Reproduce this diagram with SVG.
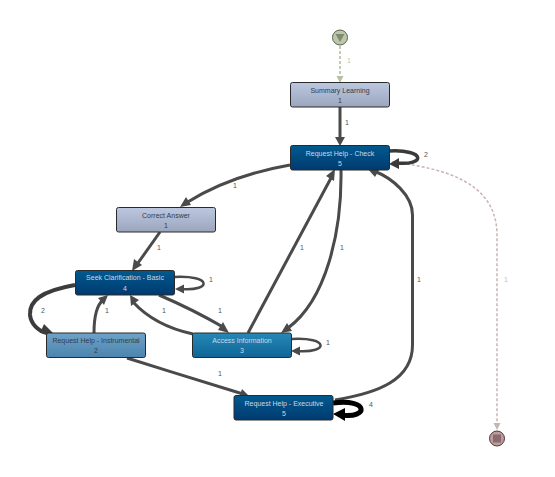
<svg xmlns="http://www.w3.org/2000/svg" width="555" height="477" viewBox="0 0 555 477">
<style>
text{font-family:"Liberation Sans",Arial,sans-serif;font-size:7px;text-anchor:middle}
.n{stroke:#2a2a2a;stroke-width:1}
.l{fill:#555}
.tw{fill:#c9d9e6}
.td{fill:#333a4a}
.e{fill:none;stroke:#4a4a4a;stroke-width:3}
.h{fill:#4a4a4a}
.loop{stroke-width:2.500}
</style>
<defs>
<linearGradient id="gs" x1="0" y1="0" x2="0" y2="1"><stop offset="0" stop-color="#bcc8e0"/><stop offset="1" stop-color="#9ba6bd"/></linearGradient>
<linearGradient id="gd" x1="0" y1="0" x2="0" y2="1"><stop offset="0" stop-color="#005a8f"/><stop offset="1" stop-color="#003a70"/></linearGradient>
<linearGradient id="gm" x1="0" y1="0" x2="0" y2="1"><stop offset="0" stop-color="#2788b8"/><stop offset="1" stop-color="#0e6596"/></linearGradient>
<linearGradient id="gi" x1="0" y1="0" x2="0" y2="1"><stop offset="0" stop-color="#6ea3c8"/><stop offset="1" stop-color="#4c84ae"/></linearGradient>
</defs>
<g id="connectors">
<path d="M340 46V78" fill="none" stroke="#b5c0a5" stroke-width="1.600" stroke-dasharray="3 2"/>
<path d="M336.500 76L340 83L343.500 76Z" fill="#b5c0a5"/>
<text x="349" y="63" fill="#c0c8b4">1</text>
<path class="e" d="M340 107V140"/><path class="h" d="M335 137L340 146L345 137Z"/>
<text class="l" x="347" y="125">1</text>
<path d="M392 162C440 168 497 180 497 235V422" fill="none" stroke="#c9b3b3" stroke-width="1.500" stroke-dasharray="3 2"/>
<path d="M493.500 423L497 430L500.500 423Z" fill="#c9b3b3"/>
<text x="506" y="282" fill="#c9b9b9">1</text>
<path d="M389 151C426 149 426 166 396 163" fill="none" stroke="#3a3a3a" stroke-width="3.500"/><path d="M389 164L399 158L399 169Z" fill="#3a3a3a"/>
<text class="l" x="426" y="157">2</text>
<path class="e" d="M290 165C250 172 213 186 186 203"/><path class="h" d="M180 207L191 205L186 197Z"/>
<text class="l" x="235" y="188">1</text>
<path class="e" d="M160 232L138 263"/><path class="h" d="M132 271L142 265L134 259Z"/>
<text class="l" x="159" y="250">1</text>
<path class="e loop" d="M174 277C212 275 212 291 182 289"/><path class="h" d="M175 289L184 284.500L184 293.500Z"/>
<text class="l" x="211" y="282">1</text>
<path d="M75 285C41 291 29 301 30 315C31 324 38 331 47 333" fill="none" stroke="#3c3c3c" stroke-width="4"/><path d="M54 334L44 324L40 333Z" fill="#3c3c3c"/>
<text class="l" x="43" y="313">2</text>
<path class="e" d="M94 333C94 316 97 305 103 300"/><path class="h" d="M108 295L98 298L104 305Z"/>
<text class="l" x="107" y="313">1</text>
<path class="e" d="M193 334C165 328 145 315 133 302"/><path class="h" d="M130 295L131 306L139 300Z"/>
<text class="l" x="164" y="313">1</text>
<path class="e" d="M159 295C180 304 204 316 223 327"/><path class="h" d="M229 333L223 322L218 330Z"/>
<text class="l" x="220" y="313">1</text>
<path class="e" d="M248 333L331 178"/><path class="h" d="M335 169L326 176L334 181Z"/>
<text class="l" x="302" y="250">1</text>
<path class="e" d="M341 170C342 232 326 300 288 328"/><path class="h" d="M281 333L292 331L287 323Z"/>
<text class="l" x="342" y="250">1</text>
<path class="e loop" d="M292 339C329 337 329 353 298 351"/><path class="h" d="M291 351L300 346.500L300 355.500Z"/>
<text class="l" x="328" y="345">1</text>
<path class="e" d="M127 358C165 370 210 384 243 394"/><path class="h" d="M250 397L242 389L239 398Z"/>
<text class="l" x="220" y="376">1</text>
<path class="e" d="M335 400C378 393 412.500 380 412.500 345V215C412.500 195 392 178 374 171"/><path class="h" d="M367 168L375 177L379 170Z"/>
<text class="l" x="419" y="282">1</text>
<path d="M333 403C369 398 369 419 341 415" fill="none" stroke="#000" stroke-width="5"/><path d="M333 414L345 408L345 421Z" fill="#000"/>
<text class="l" x="371" y="407">4</text>
</g>
<g id="start"><circle cx="340" cy="37.500" r="7.500" fill="#bcc6a8" stroke="#5a6450"/><path d="M335.500 34H344.500L340 42Z" fill="#7f8a72"/></g>
<g id="summary-learning"><rect class="n" x="290.500" y="82.500" width="99" height="24.500" rx="2" fill="url(#gs)"/><text class="td" x="340" y="93">Summary Learning</text><text class="td" x="340" y="103">1</text></g>
<g id="request-help-check"><rect class="n" x="290.500" y="145.500" width="99" height="24.500" rx="2" fill="url(#gd)"/><text class="tw" x="340" y="156">Request Help - Check</text><text class="tw" x="340" y="166">5</text></g>
<g id="correct-answer"><rect class="n" x="116.500" y="207.500" width="99" height="24.500" rx="2" fill="url(#gs)"/><text class="td" x="166" y="218">Correct Answer</text><text class="td" x="166" y="228">1</text></g>
<g id="seek-clarification-basic"><rect class="n" x="75.500" y="270.500" width="99" height="24.500" rx="2" fill="url(#gd)"/><text class="tw" x="125" y="280">Seek Clarification - Basic</text><text class="tw" x="125" y="291">4</text></g>
<g id="request-help-instrumental"><rect class="n" x="46.500" y="333" width="99" height="24.500" rx="2" fill="url(#gi)"/><text class="td" x="96" y="343">Request Help - Instrumental</text><text class="td" x="96" y="353">2</text></g>
<g id="access-information"><rect class="n" x="192.500" y="333" width="99" height="24.500" rx="2" fill="url(#gm)"/><text class="tw" x="242" y="343">Access Information</text><text class="tw" x="242" y="353">3</text></g>
<g id="request-help-executive"><rect class="n" x="234" y="395.500" width="99" height="24.500" rx="2" fill="url(#gd)"/><text class="tw" x="284" y="406">Request Help - Executive</text><text class="tw" x="284" y="416">5</text></g>
<g id="end"><circle cx="497" cy="438.500" r="7.500" fill="#bf9a9a" stroke="#4a3a3a"/><rect x="493" y="434.500" width="8" height="8" fill="#8a6a72"/></g>
</svg>
